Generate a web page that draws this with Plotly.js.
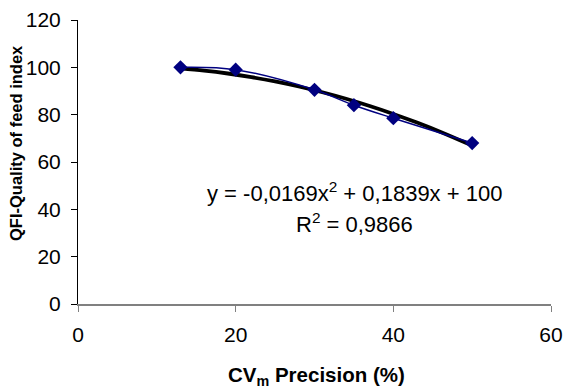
<!DOCTYPE html>
<html>
<head>
<meta charset="utf-8">
<script src="https://cdn.plot.ly/plotly-3.0.1.min.js"></script>
<style>html,body{margin:0;padding:0;background:#fff;}#chart{width:564px;height:390px;}</style>
</head>
<body>
<div id="chart"></div>
<script>
// Data
var cvPrecision = [13, 20, 30, 35, 40, 50];
var qfiValues = [100, 99, 90.5, 84, 78.5, 68];
// Trendline coefficients as printed on the chart
var trendA = -0.0169, trendB = 0.1839, trendC = 100;
var trendX = [13, 16, 19, 22, 25, 28, 31, 34, 37, 40, 43, 46, 50];
var trendY = trendX.map(function (x) { return trendA * x * x + trendB * x + trendC; });
var xTicks = [0, 20, 40, 60];
var yTicks = [0, 20, 40, 60, 80, 100, 120];

var font = "Liberation Sans, Arial, sans-serif";
var data = [
  {x: trendX, y: trendY, type: 'scatter', mode: 'lines', line: {color: '#000000', width: 3.8, shape: 'spline'}, hoverinfo: 'skip'},
  {x: cvPrecision, y: qfiValues, type: 'scatter', mode: 'lines+markers',
   line: {color: '#000080', width: 1.5, shape: 'spline', smoothing: 1},
   marker: {symbol: 'diamond', size: 11, color: '#000080'}}
];
var layout = {
  width: 564, height: 390,
  margin: {l: 78, r: 13, t: 20, b: 86},
  showlegend: false,
  paper_bgcolor: '#fff', plot_bgcolor: '#fff',
  font: {family: font, size: 21, color: '#000'},
  xaxis: {range: [0, 60], tickvals: xTicks, showgrid: false, zeroline: false,
    showline: true, linecolor: '#808080', linewidth: 1.5, ticks: 'outside', ticklen: 6, tickcolor: '#808080',
    tickfont: {size: 21}, ticklabelstandoff: 5},
  yaxis: {range: [0, 120], tickvals: yTicks, showgrid: false, zeroline: false,
    showline: true, linecolor: '#000', linewidth: 1, ticks: 'outside', ticklen: 6, tickcolor: '#000',
    tickfont: {size: 21}, ticklabelstandoff: 6},
  annotations: [
    {text: '<b>CV<sub>m</sub> Precision (%)</b>', xref: 'paper', yref: 'paper', x: 0.505, y: 0, yshift: -72,
     showarrow: false, font: {size: 20.5, family: font}, xanchor: 'center', yanchor: 'middle'},
    {text: '<b>QFI-Quality of feed index</b>', xref: 'paper', yref: 'paper', x: 0, xshift: -62, y: 0.567,
     showarrow: false, textangle: -90, font: {size: 16.5, family: font}, xanchor: 'center', yanchor: 'middle'},
    {text: 'y = -0,0169x<sup>2</sup> + 0,1839x + 100', xref: 'x', yref: 'y', x: 35.05, y: 47.4,
     showarrow: false, font: {size: 22, family: font}, xanchor: 'center', yanchor: 'middle'},
    {text: 'R<sup>2</sup> = 0,9866', xref: 'x', yref: 'y', x: 35.05, y: 34.3,
     showarrow: false, font: {size: 22, family: font}, xanchor: 'center', yanchor: 'middle'}
  ]
};
Plotly.newPlot('chart', data, layout, {staticPlot: true});
</script>
</body>
</html>
